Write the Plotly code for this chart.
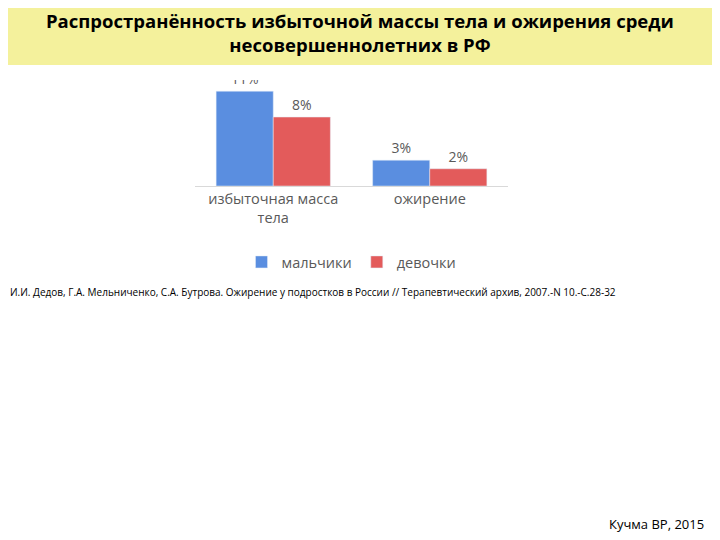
import plotly.graph_objects as go

categories = ["избыточная масса<br>тела", "ожирение"]
boys = [11, 3]
girls = [8, 2]

OFF = 8
W, H = 720 - OFF, 540 - OFF
L, R, T, B = 195 - OFF, 212, 80 - OFF, 354
pw, ph = W - L - R, H - T - B
def px(x): return (x - OFF - L) / pw
def py(y): return (H - B - (y - OFF)) / ph

fig = go.Figure()
fig.add_bar(x=categories, y=boys, name="мальчики", marker_color="#5a8ee0",
            text=[f"{v}%" for v in boys], textposition="outside",
            textfont=dict(color="#595959", size=14))
fig.add_bar(x=categories, y=girls, name="девочки", marker_color="#e35b5b",
            text=[f"{v}%" for v in girls], textposition="outside",
            textfont=dict(color="#595959", size=14))
fig.update_layout(
    width=W, height=H, margin=dict(l=L, r=R, t=T, b=B),
    paper_bgcolor="white", plot_bgcolor="white",
    barmode="group", bargap=0.27, bargroupgap=0,
    font=dict(family="Open Sans", color="#595959"),
    xaxis=dict(showline=True, linecolor="#d9d9d9", tickfont=dict(size=14.5)),
    yaxis=dict(visible=False, range=[0, 12.3]),
    legend=dict(orientation="h", x=0.5, xanchor="center", y=py(262), yanchor="middle",
                font=dict(size=14.5)),
    shapes=[dict(type="rect", xref="paper", yref="paper", x0=px(0), x1=px(720),
                 y0=py(65), y1=py(0), fillcolor="#f4f19c", line_width=0, layer="below")],
    annotations=[
        dict(text="<b>Распространённость избыточной массы тела и ожирения среди<br>несовершеннолетних в РФ</b>",
             xref="paper", yref="paper", x=px(360), y=py(32), xanchor="center", yanchor="middle",
             showarrow=False, font=dict(size=18.5, color="black"), align="center"),
        dict(text="И.И. Дедов, Г.А. Мельниченко, С.А. Бутрова. Ожирение у подростков в России // Терапевтический архив, 2007.-N 10.-С.28-32",
             xref="paper", yref="paper", x=px(8), y=py(292), xanchor="left", yanchor="middle",
             showarrow=False, font=dict(size=10, color="black")),
        dict(text="Кучма ВР, 2015", xref="paper", yref="paper", x=px(706), y=py(524),
             xanchor="right", yanchor="middle", showarrow=False, font=dict(size=13, color="black")),
    ],
)
fig.write_html("out.html")
